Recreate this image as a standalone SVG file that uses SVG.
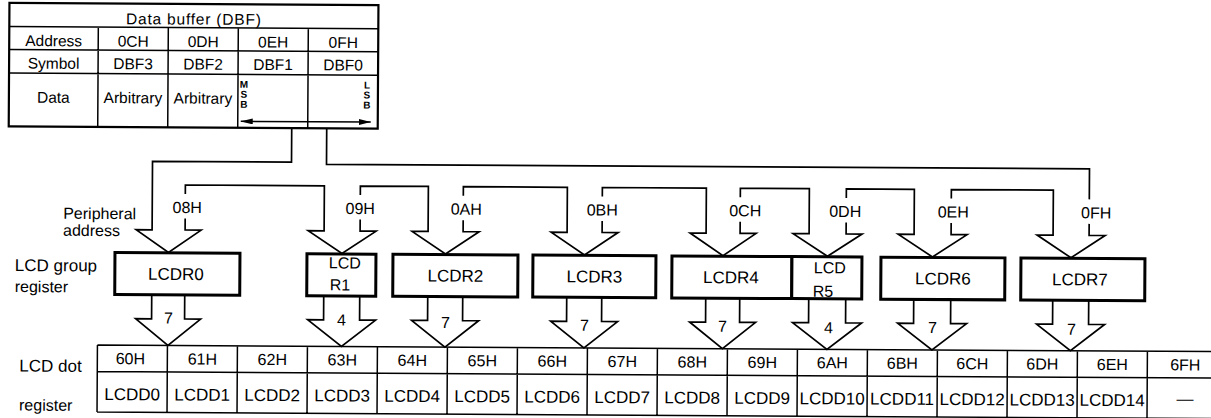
<svg xmlns="http://www.w3.org/2000/svg" width="1211" height="418" viewBox="0 0 1211 418">
<defs>
<marker id="ah" viewBox="0 0 12 6" refX="12" refY="3" markerWidth="12" markerHeight="6" markerUnits="userSpaceOnUse" orient="auto-start-reverse"><path d="M0,0 L12,3 L0,6 Z" fill="#000"/></marker>
<style>
text{font-family:"Liberation Sans",Arial,Helvetica,sans-serif;fill:#000}
.c{text-anchor:middle}
.s15{font-size:15.5px}
.s16{font-size:16px}
.s17{font-size:17px}
.sb{font-size:10px;font-weight:bold}
.ln{fill:none;stroke:#000;stroke-width:1.7;stroke-linejoin:miter}
.tl{fill:none;stroke:#000;stroke-width:1.5}
.to{fill:none;stroke:#000;stroke-width:2.2}
.bx{fill:#fff;stroke:#000;stroke-width:3}
</style>
</defs>
<rect width="1211" height="418" fill="#fff"/>
<g transform="rotate(0.34 605 250)">
<g id="dbf">
<rect class="to" x="8" y="6.5" width="369" height="123.5"/>
<path class="tl" d="M8,30H377M8,53H377M8,76.5H377M97,30V130M167,30V130M237,30V130M307,30V130"/>
<text class="c s15" x="192.5" y="27" letter-spacing="0.8">Data buffer (DBF)</text>
<text class="c s15" x="52.5" y="49.5">Address</text>
<text class="c s15" x="132" y="49.5">0CH</text>
<text class="c s15" x="202" y="49.5">0DH</text>
<text class="c s15" x="272" y="49.5">0EH</text>
<text class="c s15" x="342" y="49.5">0FH</text>
<text class="c s15" x="52.5" y="72">Symbol</text>
<text class="c s15" x="132" y="72">DBF3</text>
<text class="c s15" x="202" y="72">DBF2</text>
<text class="c s15" x="272" y="72">DBF1</text>
<text class="c s15" x="342" y="72">DBF0</text>
<text class="c s15" x="52.5" y="106">Data</text>
<text class="c s15" x="132" y="106">Arbitrary</text>
<text class="c s15" x="202" y="106">Arbitrary</text>
<text class="c sb" x="243" y="90">M</text>
<text class="c sb" x="243" y="100">S</text>
<text class="c sb" x="243" y="110">B</text>
<text class="c sb" x="366" y="90">L</text>
<text class="c sb" x="366" y="100">S</text>
<text class="c sb" x="366" y="110">B</text>
<path class="tl" d="M240,123.5H370" marker-start="url(#ah)" marker-end="url(#ah)"/>
</g>
<g id="connectors">
<path class="ln" d="M291,130V164H152V232.5H136L168.5,255L201,232.5H185V221"/>
<path class="ln" d="M185,196.5V187.5H324V232.5H308L342,255L376,232.5H360V221"/>
<path class="ln" d="M360,196.5V187.5H428V232.5H412L445.5,255L479,232.5H463V221"/>
<path class="ln" d="M463,196.5V187.5H567V232.5H551L584.5,255L618,232.5H602V221"/>
<path class="ln" d="M602,196.5V187.5H706V232.5H690L723,255L756,232.5H740V221"/>
<path class="ln" d="M740,196.5V187.5H809V232.5H793L827.5,255L862,232.5H846V221"/>
<path class="ln" d="M846,196.5V187.5H914V232.5H898L932.5,255L967,232.5H951V221"/>
<path class="ln" d="M951,196.5V187.5H1053V232.5H1037L1071,255L1105,232.5H1089V221"/>
<path class="ln" d="M1089,196.5V166H326V130"/>
<text class="c s16" x="187" y="215.5">08H</text>
<text class="c s16" x="360" y="215.5">09H</text>
<text class="c s16" x="466" y="215.5">0AH</text>
<text class="c s16" x="602" y="215.5">0BH</text>
<text class="c s16" x="745" y="215.5">0CH</text>
<text class="c s16" x="845" y="215.5">0DH</text>
<text class="c s16" x="953" y="215.5">0EH</text>
<text class="c s16" x="1096" y="215.5">0FH</text>
<path class="ln" d="M152,297.5V321.5H136L168.5,348L201,321.5H185V297.5"/>
<path class="ln" d="M324,297.5V321.5H308L342,348L376,321.5H360V297.5"/>
<path class="ln" d="M428,297.5V321.5H412L445.5,348L479,321.5H463V297.5"/>
<path class="ln" d="M567,297.5V321.5H551L584.5,348L618,321.5H602V297.5"/>
<path class="ln" d="M706,297.5V321.5H690L723,348L756,321.5H740V297.5"/>
<path class="ln" d="M809,297.5V321.5H793L827.5,348L862,321.5H846V297.5"/>
<path class="ln" d="M914,297.5V321.5H898L932.5,348L967,321.5H951V297.5"/>
<path class="ln" d="M1053,297.5V321.5H1037L1071,348L1105,321.5H1089V297.5"/>
<text class="c s16" x="169" y="326">7</text>
<text class="c s16" x="342" y="327">4</text>
<text class="c s16" x="446" y="329">7</text>
<text class="c s16" x="585" y="331">7</text>
<text class="c s16" x="723" y="331">7</text>
<text class="c s16" x="829" y="332">4</text>
<text class="c s16" x="933" y="331">7</text>
<text class="c s16" x="1072" y="332">7</text>
</g>
<g id="labels">
<text class="s16" x="63" y="222">Peripheral</text>
<text class="s16" x="63" y="239">address</text>
<text class="s17" x="15" y="274.5">LCD group</text>
<text class="s16" x="15" y="295.5">register</text>
<text class="s17" x="20" y="375">LCD dot</text>
<text class="s16" x="20" y="414">register</text>
</g>
<g id="lcdr0"><rect class="bx" x="115" y="255.5" width="125" height="42"/><text class="c s17" x="176" y="282.5">LCDR0</text></g>
<g id="lcdr1"><rect class="bx" x="307" y="255.5" width="69" height="42"/><text class="c s16" x="345" y="270">LCD</text><text class="s16" x="330" y="292">R1</text></g>
<g id="lcdr2"><rect class="bx" x="393" y="255.5" width="125" height="42"/><text class="c s17" x="455.5" y="282.5">LCDR2</text></g>
<g id="lcdr3"><rect class="bx" x="533" y="255.5" width="123" height="42"/><text class="c s17" x="594.5" y="282.5">LCDR3</text></g>
<g id="lcdr4"><rect class="bx" x="672" y="255.5" width="120" height="42"/><text class="c s17" x="731" y="282.5">LCDR4</text></g>
<g id="lcdr5"><rect class="bx" x="792" y="255.5" width="70" height="42"/><text class="c s16" x="830" y="272">LCD</text><text class="s16" x="813" y="295.5">R5</text></g>
<g id="lcdr6"><rect class="bx" x="881" y="255.5" width="124" height="42"/><text class="c s17" x="943" y="282.5">LCDR6</text></g>
<g id="lcdr7"><rect class="bx" x="1021" y="255.5" width="124" height="42"/><text class="c s17" x="1080" y="282.5">LCDR7</text></g>
<g id="lcdd">
<path class="tl" d="M98,348H1230M98,374.5H1230M98,415H1230M98,348V415M168,348V415M238,348V415M308,348V415M378,348V415M448,348V415M518,348V415M588,348V415M658,348V415M728,348V415M798,348V415M868,348V415M938,348V415M1008,348V415M1078,348V415M1148,348V415M1218,348V415"/>
<text class="c s16" x="131" y="367">60H</text>
<text class="c s16" x="203" y="367">61H</text>
<text class="c s16" x="273" y="367">62H</text>
<text class="c s16" x="343" y="367">63H</text>
<text class="c s16" x="413" y="367">64H</text>
<text class="c s16" x="483" y="367">65H</text>
<text class="c s16" x="553" y="367">66H</text>
<text class="c s16" x="623" y="367">67H</text>
<text class="c s16" x="693" y="367">68H</text>
<text class="c s16" x="763" y="367">69H</text>
<text class="c s16" x="833" y="367">6AH</text>
<text class="c s16" x="903" y="367">6BH</text>
<text class="c s16" x="973" y="367">6CH</text>
<text class="c s16" x="1043" y="367">6DH</text>
<text class="c s16" x="1113" y="367">6EH</text>
<text class="c s16" x="1186" y="367">6FH</text>
<text class="c s17" x="133" y="403">LCDD0</text>
<text class="c s17" x="203" y="403">LCDD1</text>
<text class="c s17" x="273" y="403">LCDD2</text>
<text class="c s17" x="343" y="403">LCDD3</text>
<text class="c s17" x="413" y="403">LCDD4</text>
<text class="c s17" x="483" y="403">LCDD5</text>
<text class="c s17" x="553" y="403">LCDD6</text>
<text class="c s17" x="623" y="403">LCDD7</text>
<text class="c s17" x="693" y="403">LCDD8</text>
<text class="c s17" x="763" y="403">LCDD9</text>
<text class="c s17" x="833" y="403">LCDD10</text>
<text class="c s17" x="903" y="403">LCDD11</text>
<text class="c s17" x="973" y="403">LCDD12</text>
<text class="c s17" x="1043" y="403">LCDD13</text>
<text class="c s17" x="1113" y="403">LCDD14</text>
<text class="c s17" x="1186" y="401">—</text>
</g>
</g>
</svg>
